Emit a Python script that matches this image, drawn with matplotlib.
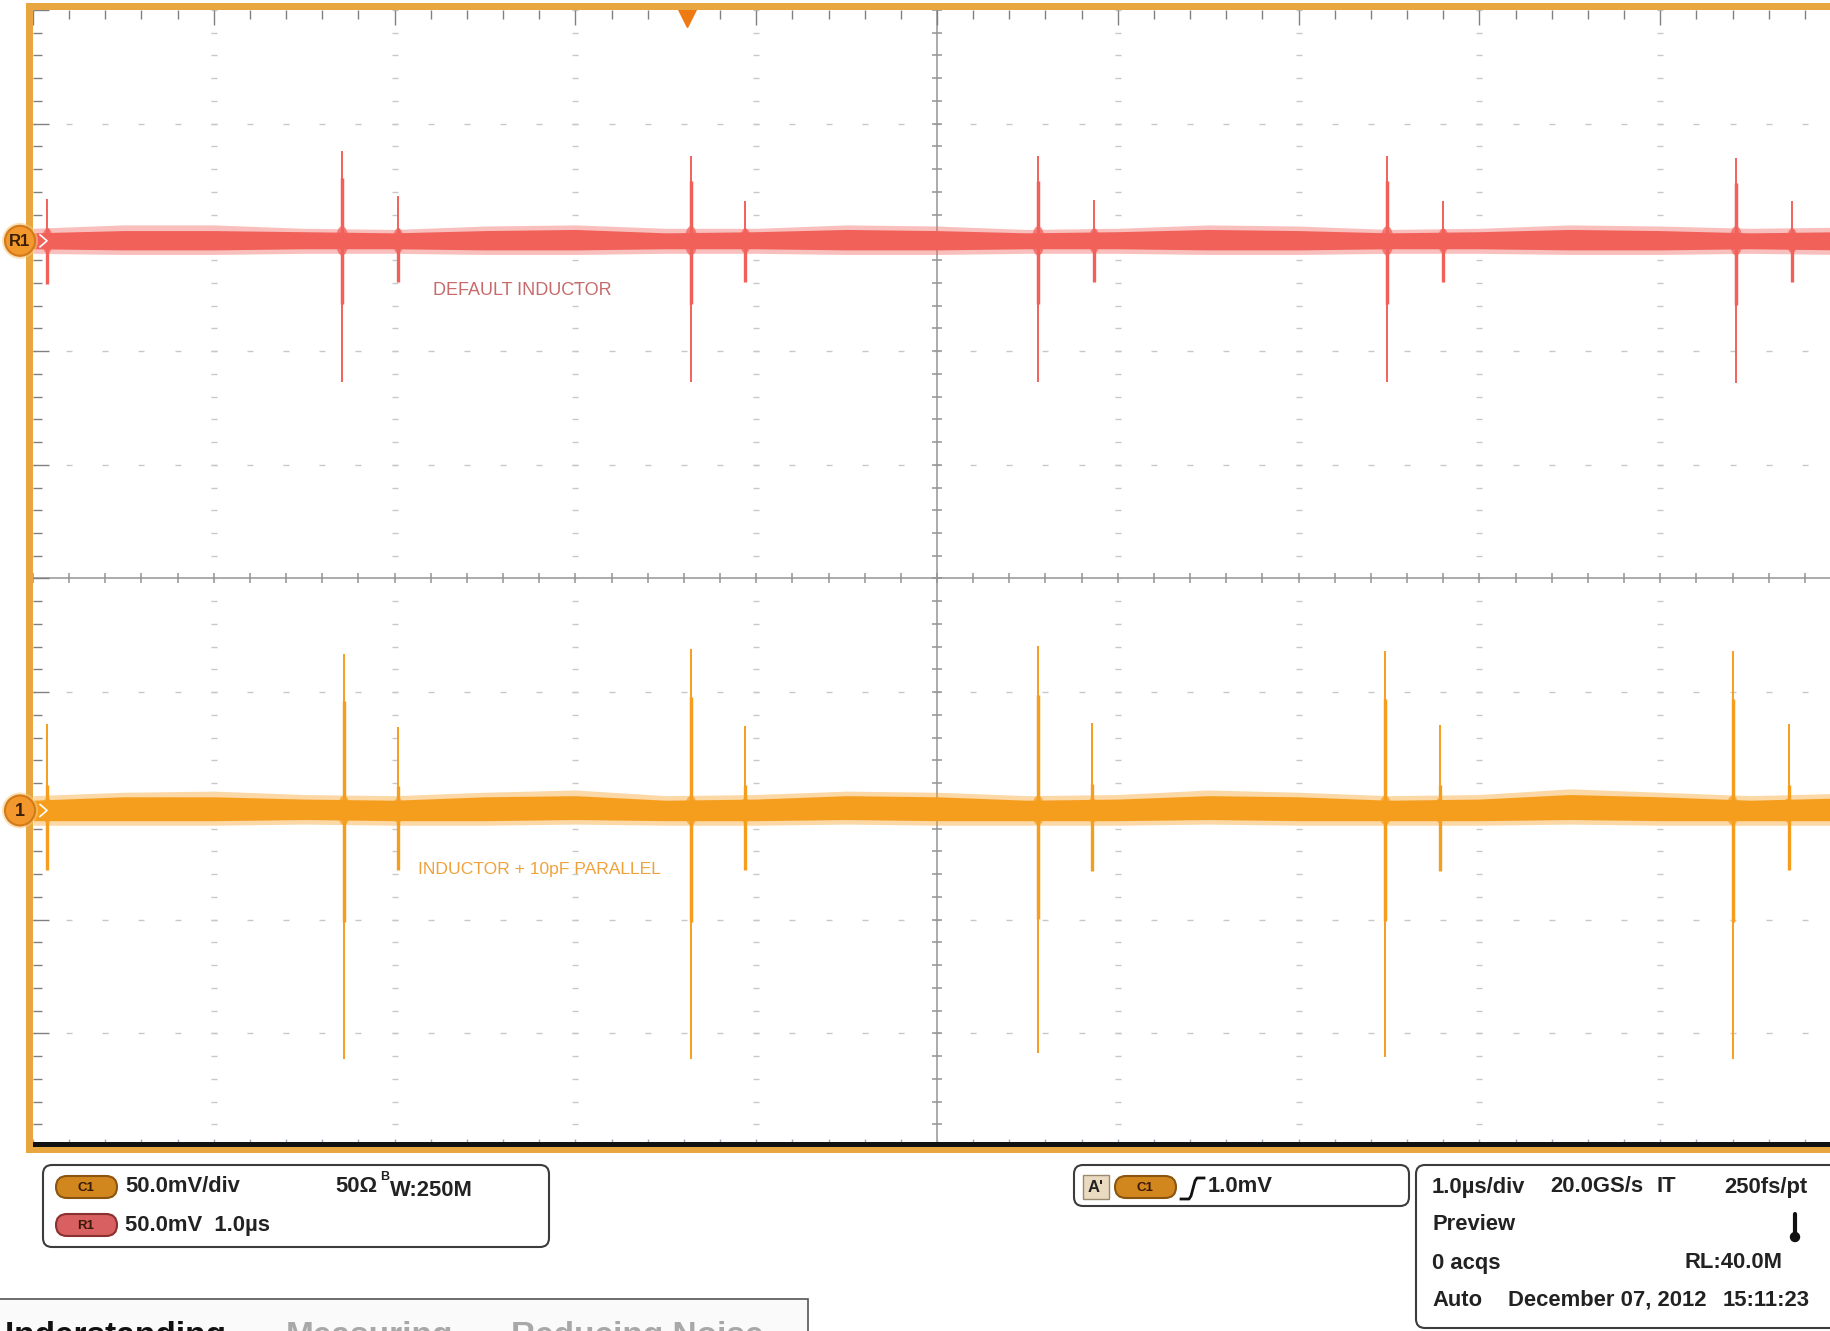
import numpy as np
import matplotlib
matplotlib.use("Agg")
import matplotlib.pyplot as plt
from matplotlib.patches import FancyBboxPatch, Rectangle, Circle, Ellipse

# ---------------- data (screen divisions: 1 div = 1.0 us horizontally, 50 mV vertically)
env_x = [-5.0, -4.5, -4.0, -3.5, -3.0, -2.5, -2.0, -1.5, -1.0, -0.5, 0.0,
         0.5, 1.0, 1.5, 2.0, 2.5, 3.0, 3.5, 4.0, 4.5, 5.0]
# R1 reference trace (DEFAULT INDUCTOR) noise envelope
r1_upper = [3.04, 3.06, 3.06, 3.05, 3.04, 3.06, 3.07, 3.04, 3.05, 3.07, 3.06,
            3.04, 3.05, 3.07, 3.06, 3.04, 3.05, 3.07, 3.06, 3.04, 3.05]
r1_lower = [2.90, 2.89, 2.89, 2.90, 2.90, 2.89, 2.89, 2.90, 2.90, 2.89, 2.89,
            2.90, 2.90, 2.89, 2.89, 2.90, 2.90, 2.89, 2.89, 2.90, 2.89]
r1_peak_upper = [3.08, 3.11, 3.11, 3.08, 3.07, 3.10, 3.11, 3.08, 3.08, 3.11, 3.10,
                 3.07, 3.08, 3.11, 3.10, 3.07, 3.08, 3.11, 3.10, 3.08, 3.09]
r1_peak_lower = [2.86, 2.85, 2.85, 2.86, 2.86, 2.85, 2.85, 2.86, 2.86, 2.85, 2.85,
                 2.86, 2.86, 2.85, 2.85, 2.86, 2.86, 2.85, 2.85, 2.86, 2.85]
r1_large_x = [-3.29, -1.36, 0.56, 2.49, 4.42]
r1_large_top = [3.76, 3.72, 3.72, 3.72, 3.70]
r1_large_bot = [1.73, 1.73, 1.73, 1.73, 1.72]
r1_small_x = [-4.92, -2.98, -1.06, 0.87, 2.80, 4.73]
r1_small_top = [3.34, 3.36, 3.32, 3.33, 3.32, 3.32]
r1_small_bot = [2.59, 2.61, 2.61, 2.61, 2.61, 2.61]

# C1 live trace (INDUCTOR + 10pF PARALLEL) noise envelope
c1_upper = [-1.95, -1.92, -1.92, -1.94, -1.95, -1.92, -1.91, -1.95, -1.94, -1.91, -1.92,
            -1.95, -1.94, -1.91, -1.92, -1.95, -1.94, -1.90, -1.92, -1.95, -1.93]
c1_lower = [-2.13, -2.13, -2.13, -2.12, -2.13, -2.13, -2.12, -2.13, -2.13, -2.12, -2.13,
            -2.13, -2.13, -2.12, -2.13, -2.13, -2.13, -2.12, -2.13, -2.13, -2.13]
c1_peak_upper = [-1.91, -1.88, -1.87, -1.90, -1.91, -1.88, -1.86, -1.91, -1.90, -1.87, -1.88,
                 -1.91, -1.90, -1.86, -1.88, -1.91, -1.90, -1.85, -1.88, -1.91, -1.89]
c1_peak_lower = [-2.17, -2.17, -2.17, -2.16, -2.17, -2.17, -2.16, -2.17, -2.17, -2.16, -2.17,
                 -2.17, -2.17, -2.16, -2.17, -2.17, -2.17, -2.16, -2.17, -2.17, -2.17]
c1_large_x = [-3.28, -1.36, 0.56, 2.48, 4.40]
c1_large_top = [-0.66, -0.62, -0.59, -0.64, -0.64]
c1_large_bot = [-4.23, -4.23, -4.17, -4.21, -4.23]
c1_small_x = [-4.92, -2.98, -1.06, 0.86, 2.78, 4.71]
c1_small_top = [-1.28, -1.31, -1.30, -1.27, -1.29, -1.28]
c1_small_bot = [-2.56, -2.56, -2.56, -2.57, -2.57, -2.56]

r1_level = 2.97
c1_level = -2.04
trigger_pos = -1.38

# ---------------- layout
W, H = 1830, 1331
DPI = 100
DIV = 180.8
PL, PT, PB = 33, 10, 1147

R1_COL = "#F2605A"
C1_COL = "#F59E1E"
FRAME = "#E8A640"

fig = plt.figure(figsize=(W / DPI, H / DPI), dpi=DPI, facecolor="white")

sc = fig.add_axes([PL / W, 1 - PB / H, (W - PL) / W, (PB - PT) / H], zorder=2)
sc.set_xlim(-5, -5 + (W - PL) / DIV)
sc.set_ylim(-5, 5)
sc.axis("off")

# grid: dotted major lines (short dashes at each minor position)
minor = np.round(np.arange(-5, 5.001, 0.2), 2)
for k in range(-4, 5):
    if k == 0:
        continue
    sc.plot(np.full_like(minor, k), minor, ls="none", marker="_", ms=4.5,
            mew=1.0, color="#C8C8C8", zorder=1)
    sc.plot(minor, np.full_like(minor, k), ls="none", marker="_", ms=4.5,
            mew=1.0, color="#C8C8C8", zorder=1)
# centre cross with ticks
sc.axvline(0, color="#ABABAB", lw=1.4, zorder=1)
sc.axhline(0, color="#ABABAB", lw=1.4, zorder=1)
sc.plot(np.zeros_like(minor), minor, ls="none", marker="_", ms=7, mew=1.1,
        color="#939393", zorder=1)
sc.plot(minor, np.zeros_like(minor), ls="none", marker="|", ms=7, mew=1.1,
        color="#939393", zorder=1)
# edge ticks
is_major = np.isclose(minor, np.round(minor))
sc.hlines(minor, -5, -5 + np.where(is_major, 0.09, 0.05), color="#808080", lw=1.0)
sc.vlines(minor, 5 - np.where(is_major, 0.13, 0.08), 5, color="#808080", lw=1.0)
sc.vlines(minor, -5, -5 + 0.07, color="#9AA8B8", lw=1.0)


def draw_trace(upper, lower, pk_up, pk_lo, lx, lt, lb, sx, st, sb, level, col):
    sc.fill_between(env_x, pk_lo, pk_up, color=col, alpha=0.4, lw=0, zorder=3)
    sc.fill_between(env_x, lower, upper, color=col, lw=0, zorder=3)
    for x, t, b in zip(lx, lt, lb):
        sc.vlines(x, b, t, color=col, lw=1.4, zorder=4)
        sc.vlines(x, level - 0.45 * (level - b), level + 0.7 * (t - level),
                  color=col, lw=2.5, zorder=4)
        sc.add_patch(Ellipse((x, level), 0.07, 0.26, color=col,
                             alpha=0.75, lw=0, zorder=4))
    for x, t, b in zip(sx, st, sb):
        sc.vlines(x, b, t, color=col, lw=1.4, zorder=4)
        sc.vlines(x, b, level + 0.3 * (t - level), color=col, lw=2.4, zorder=4)
        sc.add_patch(Ellipse((x, level), 0.06, 0.22, color=col,
                             alpha=0.75, lw=0, zorder=4))


draw_trace(r1_upper, r1_lower, r1_peak_upper, r1_peak_lower, r1_large_x,
           r1_large_top, r1_large_bot, r1_small_x, r1_small_top, r1_small_bot,
           r1_level, R1_COL)
draw_trace(c1_upper, c1_lower, c1_peak_upper, c1_peak_lower, c1_large_x,
           c1_large_top, c1_large_bot, c1_small_x, c1_small_top, c1_small_bot,
           c1_level, C1_COL)

label_font = ["Liberation Sans", "DejaVu Sans"]
sc.text(-2.79, 2.53, "DEFAULT INDUCTOR", family=label_font, fontsize=13,
        color="#C86A6A", va="center", ha="left", zorder=5)
sc.text(-2.87, -2.56, "INDUCTOR + 10pF PARALLEL", family=label_font, fontsize=12.6,
        color="#EFA23C", va="center", ha="left", zorder=5)

# trigger position marker
sc.plot([trigger_pos], [4.93], marker="v", ms=13, color="#F07A12", mec="#F07A12",
        clip_on=False, zorder=6)

# ---------------- overlay (pixel coordinates)
ov = fig.add_axes([0, 0, 1, 1], zorder=5)
ov.set_xlim(0, W)
ov.set_ylim(H, 0)
ov.axis("off")
ov.patch.set_alpha(0)

# frame
ov.add_patch(Rectangle((26, 3), 7, 1150, color=FRAME, lw=0))
ov.add_patch(Rectangle((26, 3), W - 26, 7, color=FRAME, lw=0))
ov.add_patch(Rectangle((33, 1142), W - 33, 5, color="#111111", lw=0))
ov.add_patch(Rectangle((26, 1147), W - 26, 6, color=FRAME, lw=0))


def level_px(v):
    return PT + (5 - v) * (PB - PT) / 10


def badge(cy, label, fs):
    ov.add_patch(Circle((20, cy), 18, color="#F8C878", alpha=0.55, lw=0))
    ov.add_patch(Circle((20, cy), 15, fc="#F3982C", ec="#D27A1A", lw=1.5))
    ov.text(20, cy + 1, label, ha="center", va="center", fontsize=fs,
            fontweight="bold", color="#3A1E08", family="Liberation Sans")
    ov.plot([40, 47, 40], [cy - 6, cy, cy + 6], color="white", lw=1.2)


badge(level_px(r1_level), "R1", 12)
badge(level_px(c1_level), "1", 13)

TXT = dict(family=["Liberation Sans", "DejaVu Sans"], fontweight="bold",
           fontsize=15.8, color="#222222", va="center")


def box(x0, y0, x1, y1):
    ov.add_patch(FancyBboxPatch((x0, y0), x1 - x0, y1 - y0,
                                boxstyle="round,pad=0,rounding_size=9",
                                fc="white", ec="#3C3C3C", lw=1.5))


def pill(x0, cy, label, fc, ec):
    ov.add_patch(FancyBboxPatch((x0, cy - 11), 61, 22,
                                boxstyle="round,pad=0,rounding_size=11",
                                fc=fc, ec=ec, lw=1.5))
    ov.text(x0 + 30, cy + 1, label, ha="center", va="center", fontsize=9.5,
            fontweight="bold", color="#3A1A08", family="Liberation Sans")


# channel box
box(43, 1165, 549, 1247)
pill(56, 1187, "C1", "#D2861E", "#8A5510")
pill(56, 1225, "R1", "#D86060", "#8A3030")
ov.text(125, 1187, "50.0mV/div", **TXT)
ov.text(335, 1187, "50\u03a9", **TXT)
ov.text(380, 1177, "B", fontsize=9, fontweight="bold", color="#222222",
        family="Liberation Sans", va="center", ha="left")
ov.text(390, 1191, "W:250M", **TXT)
ov.text(125, 1225, "50.0mV  1.0\u00b5s", **TXT)

# trigger box
box(1074, 1165, 1409, 1206)
ov.add_patch(Rectangle((1083, 1175), 26, 24, fc="#EADBC0", ec="#9A8A70", lw=1))
ov.text(1096, 1187, "A'", ha="center", fontsize=12, fontweight="bold",
        color="#222222", family="Liberation Sans", va="center")
pill(1115, 1187, "C1", "#D2861E", "#8A5510")
ov.plot([1181, 1189, 1191, 1195, 1197, 1204], [1199, 1199, 1196, 1181, 1178, 1178],
        color="#111111", lw=2)
ov.text(1208, 1187, "1.0mV", **TXT)

# timebase box
box(1416, 1165, W + 20, 1328)
ov.text(1432, 1187, "1.0\u00b5s/div", **TXT)
ov.text(1550, 1187, "20.0GS/s", **TXT)
ov.text(1656, 1187, "IT", **TXT)
ov.text(1724, 1187, "250fs/pt", **TXT)
ov.text(1432, 1225, "Preview", **TXT)
ov.plot([1795, 1795], [1214, 1234], color="#111111", lw=3, solid_capstyle="round")
ov.add_patch(Circle((1795, 1237), 4.5, color="#111111"))
ov.text(1432, 1263, "0 acqs", **TXT)
ov.text(1685, 1263, "RL:40.0M", **TXT)
ov.text(1432, 1300, "Auto", **TXT)
ov.text(1508, 1300, "December 07, 2012", **TXT)
ov.text(1723, 1300, "15:11:23", **TXT)

# cut-off navigation bar at the bottom left
ov.add_patch(Rectangle((-2, 1299), 810, 60, fc="#FAFAFA", ec="#555555", lw=1.2))
NAV = dict(family=["Liberation Sans", "DejaVu Sans"], fontweight="bold",
           fontsize=24, va="top")
ov.text(226, 1321, "Understanding", ha="right", color="#111111", **NAV)
ov.text(286, 1321, "Measuring", ha="left", color="#A8A8A8", **NAV)
ov.text(511, 1321, "Reducing Noise", ha="left", color="#A8A8A8", **NAV)

fig.savefig("out.png", dpi=DPI, facecolor="white")
